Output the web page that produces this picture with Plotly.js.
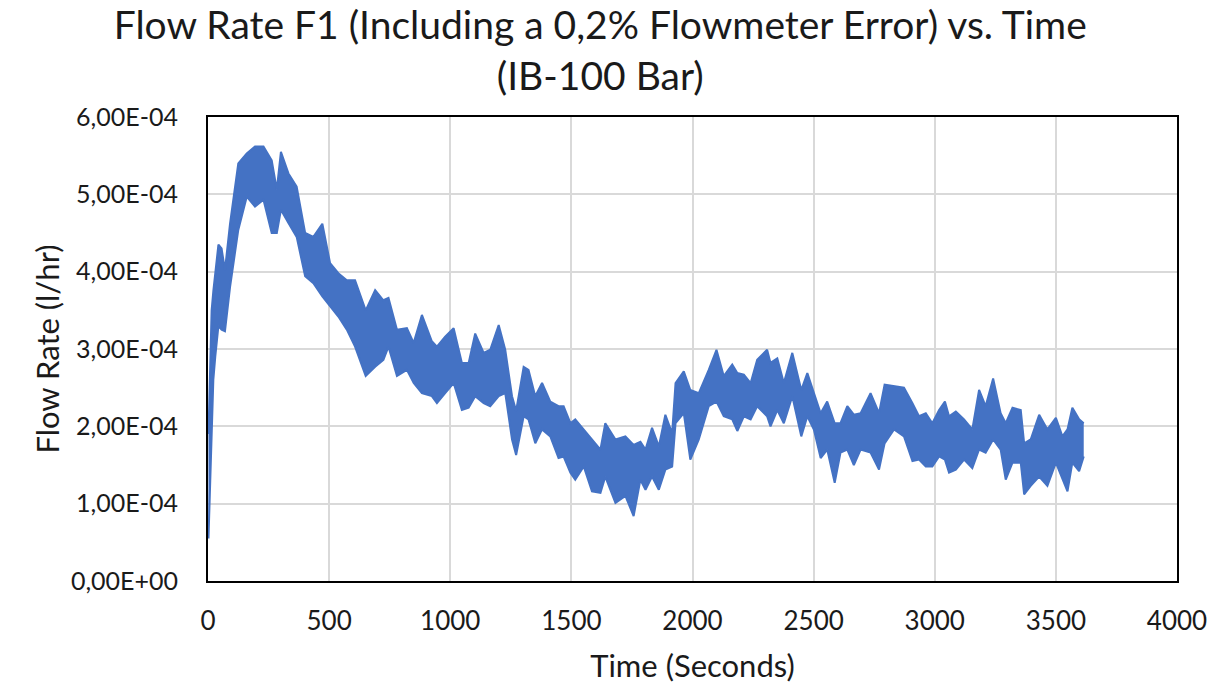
<!DOCTYPE html>
<html>
<head>
<meta charset="utf-8">
<script src="https://cdn.plot.ly/plotly-3.0.1.min.js"></script>
<style>
html,body{margin:0;padding:0;background:#fff;}
#chart{width:1225px;height:693px;}
</style>
</head>
<body>
<div id="chart"></div>
<script>
// Time (s) sample positions
const TIME_S = [2,8,15,22,30,43,56,70,91,125,160,194,229,263,284,301,332,366,401,435,472,504,538,573,607,651,690,724,745,780,821,849,883,924,945,979,1014,1048,1076,1103,1138,1165,1200,1227,1255,1272,1303,1323,1351,1379,1413,1447,1468,1496,1516,1551,1585,1620,1640,1682,1723,1757,1785,1806,1833,1861,1888,1916,1930,1964,1991,2026,2067,2099,2129,2164,2185,2212,2240,2267,2308,2322,2350,2377,2412,2449,2474,2501,2529,2556,2587,2611,2639,2666,2694,2735,2770,2793,2832,2873,2908,2935,2963,2990,3018,3042,3059,3087,3121,3155,3183,3210,3241,3272,3293,3321,3355,3369,3396,3431,3465,3500,3527,3548,3568,3596,3615];
// Upper envelope of flow rate (in units of 1E-04 l/hr)
const FLOW_HI_E4 = [1.9,2.8,3.5,3.75,3.95,4.35,4.3,4.02,4.62,5.4,5.53,5.62,5.62,5.44,5.06,5.55,5.27,5.1,4.5,4.45,4.62,4.11,3.98,3.89,3.89,3.5,3.76,3.63,3.66,3.25,3.27,3.08,3.44,3.1,3.03,3.16,3.27,2.82,2.82,3.2,2.95,2.99,3.31,2.99,2.39,2.2,2.77,2.73,2.39,2.56,2.32,2.26,2.26,2.04,2.09,1.96,1.83,1.7,2.04,1.83,1.87,1.76,1.8,1.7,1.98,1.74,2.15,1.91,2.56,2.71,2.47,2.43,2.73,2.99,2.65,2.8,2.69,2.67,2.56,2.86,2.99,2.82,2.88,2.56,2.95,2.47,2.69,2.43,2.17,2.32,2.04,2.04,2.26,2.15,2.17,2.43,2.17,2.54,2.52,2.5,2.3,2.13,2.17,2.04,2.21,2.32,2.13,2.19,2.09,1.96,2.47,2.26,2.62,2.17,2.04,2.24,2.21,1.78,1.83,2.15,1.96,2.11,1.87,1.96,2.24,2.09,2.04];
// Lower envelope of flow rate (in units of 1E-04 l/hr)
const FLOW_LO_E4 = [0.55,1.2,2.0,2.6,2.9,3.3,3.25,3.23,3.8,4.54,4.97,4.84,4.93,4.5,4.5,4.8,4.63,4.45,3.94,3.85,3.68,3.55,3.42,3.25,3.03,2.65,2.77,2.86,3.03,2.65,2.73,2.56,2.43,2.39,2.3,2.43,2.56,2.21,2.24,2.39,2.3,2.26,2.39,2.43,1.83,1.63,2.13,2.09,1.78,1.96,1.87,1.59,1.61,1.4,1.31,1.48,1.16,1.14,1.35,1.01,1.1,0.84,1.31,1.18,1.35,1.18,1.44,1.48,2.04,2.17,1.57,1.83,2.26,2.32,2.13,2.09,1.94,2.13,2.09,2.26,2.13,2.0,2.21,2.04,2.39,1.87,2.13,1.96,1.59,1.7,1.27,1.66,1.7,1.5,1.7,1.66,1.44,1.78,1.96,1.87,1.55,1.57,1.48,1.48,1.61,1.57,1.4,1.44,1.57,1.46,1.7,1.66,1.83,1.7,1.31,1.53,1.53,1.12,1.23,1.35,1.23,1.53,1.31,1.16,1.53,1.42,1.61];

const Y_TICK_VALS_E4 = [0,1,2,3,4,5,6];
const Y_TICK_TEXT = ["0,00E+00","1,00E-04","2,00E-04","3,00E-04","4,00E-04","5,00E-04","6,00E-04"];
const X_TICK_VALS = [0,500,1000,1500,2000,2500,3000,3500,4000];

const toUnits = a => a.map(v => v * 1e-4);
const BLUE = '#4472C4';
const FONT = 'Lato, "Open Sans", sans-serif';
const TXT = '#1a1a1a';

const traces = [
  {x: TIME_S, y: toUnits(FLOW_LO_E4), type: 'scatter', mode: 'lines',
   line: {color: BLUE, width: 2}, hoverinfo: 'x+y', showlegend: false},
  {x: TIME_S, y: toUnits(FLOW_HI_E4), type: 'scatter', mode: 'lines',
   fill: 'tonexty', fillcolor: BLUE,
   line: {color: BLUE, width: 2}, hoverinfo: 'x+y', showlegend: false}
];

const layout = {
  width: 1225, height: 693,
  paper_bgcolor: '#fff', plot_bgcolor: '#fff',
  margin: {l: 208, r: 48, t: 117, b: 112},
  font: {family: FONT, color: TXT},
  title: {
    text: 'Flow Rate F1 (Including a 0,2% Flowmeter Error) vs. Time<br>(IB-100 Bar)',
    font: {family: FONT, size: 39, color: TXT},
    x: 0.49, xanchor: 'center', y: 0.944, yanchor: 'top', yref: 'container'
  },
  xaxis: {
    range: [0, 4000], tickvals: X_TICK_VALS, ticks: '',
    showgrid: true, gridcolor: '#d9d9d9', gridwidth: 2,
    zeroline: false, showline: true, linecolor: '#000', linewidth: 2, mirror: true,
    tickfont: {family: FONT, size: 26, color: TXT}, ticklabelstandoff: 16,
    automargin: true,
    title: {text: 'Time (Seconds)', font: {family: FONT, size: 31, color: TXT}, standoff: 20}
  },
  yaxis: {
    range: [0, 6e-4], tickvals: toUnits(Y_TICK_VALS_E4), ticktext: Y_TICK_TEXT, ticks: '',
    showgrid: true, gridcolor: '#d9d9d9', gridwidth: 2,
    zeroline: false, showline: true, linecolor: '#000', linewidth: 2, mirror: true,
    tickfont: {family: FONT, size: 25, color: TXT}, ticklabelstandoff: 23,
    automargin: true,
    title: {text: 'Flow Rate (l/hr)', font: {family: FONT, size: 31, color: TXT}, standoff: 2}
  }
};

Plotly.newPlot('chart', traces, layout, {displayModeBar: false, responsive: false});
</script>
</body>
</html>
